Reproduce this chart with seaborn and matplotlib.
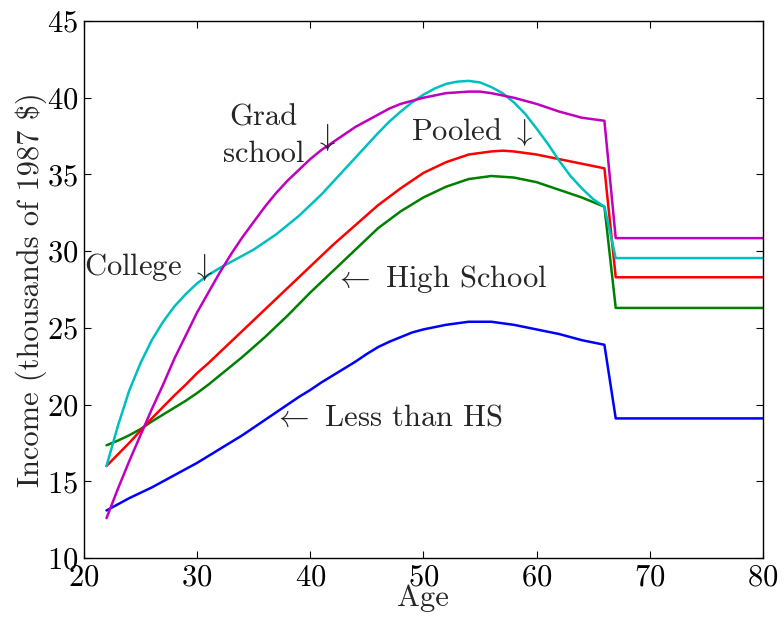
import matplotlib
matplotlib.use("Agg")
import matplotlib.pyplot as plt
import seaborn as sns
import pandas as pd

ages = [22, 23, 24, 25, 26, 27, 28, 29, 30, 31, 32, 33, 34, 35, 36, 37, 38, 39,
        40, 41, 42, 43, 44, 45, 46, 47, 48, 49, 50, 51, 52, 53, 54, 55, 56, 57,
        58, 59, 60, 61, 62, 63, 64, 65, 66, 67, 80]

less_than_hs = [13.1, 13.5, 13.9, 14.25, 14.6, 15.0, 15.4, 15.8, 16.2, 16.65, 17.1, 17.55,
                18.0, 18.5, 19.0, 19.5, 20.0, 20.5, 20.95, 21.45, 21.9, 22.35, 22.8, 23.3,
                23.75, 24.1, 24.4, 24.7, 24.9, 25.05, 25.2, 25.3, 25.4, 25.4, 25.4, 25.3,
                25.2, 25.05, 24.9, 24.75, 24.6, 24.4, 24.2, 24.05, 23.9, 19.1, 19.1]
high_school = [17.35, 17.65, 18.0, 18.4, 18.9, 19.35, 19.8, 20.25, 20.75, 21.3, 21.9, 22.5,
               23.1, 23.75, 24.4, 25.1, 25.8, 26.55, 27.3, 28.0, 28.7, 29.4, 30.1, 30.8,
               31.5, 32.05, 32.6, 33.05, 33.5, 33.85, 34.2, 34.45, 34.7, 34.8, 34.9, 34.85,
               34.8, 34.65, 34.5, 34.25, 34.0, 33.75, 33.5, 33.2, 32.9, 26.3, 26.3]
pooled = [16.0, 16.75, 17.5, 18.3, 19.1, 19.85, 20.6, 21.3, 22.05, 22.7, 23.4, 24.1,
          24.8, 25.5, 26.2, 26.9, 27.6, 28.3, 29.0, 29.7, 30.4, 31.05, 31.7, 32.35,
          33.0, 33.55, 34.1, 34.6, 35.1, 35.45, 35.8, 36.05, 36.3, 36.4, 36.5, 36.55,
          36.5, 36.4, 36.3, 36.15, 36.0, 35.85, 35.7, 35.55, 35.4, 28.3, 28.3]
college = [16.0, 18.6, 20.9, 22.7, 24.2, 25.4, 26.4, 27.2, 27.9, 28.45, 28.9, 29.3,
           29.7, 30.1, 30.6, 31.1, 31.7, 32.3, 33.0, 33.7, 34.5, 35.3, 36.1, 36.9,
           37.7, 38.45, 39.1, 39.7, 40.2, 40.6, 40.9, 41.05, 41.1, 41.0, 40.7, 40.3,
           39.7, 38.95, 38.0, 37.0, 35.9, 34.9, 34.1, 33.4, 32.9, 29.55, 29.55]
grad_school = [12.6, 14.5, 16.3, 18.0, 19.7, 21.3, 23.0, 24.5, 26.0, 27.3, 28.6, 29.8,
               30.9, 31.9, 32.9, 33.8, 34.6, 35.3, 36.0, 36.6, 37.1, 37.6, 38.1, 38.5,
               38.9, 39.3, 39.6, 39.8, 40.0, 40.15, 40.3, 40.35, 40.4, 40.4, 40.3, 40.15,
               40.0, 39.8, 39.6, 39.35, 39.1, 38.9, 38.7, 38.6, 38.5, 30.85, 30.85]

series_names = ["Less than HS", "High School", "Pooled", "College", "Grad school"]
series_colors = ["#0000ff", "#008000", "#ff0000", "#00bfbf", "#bf00bf"]
series_values = [less_than_hs, high_school, pooled, college, grad_school]

rows = []
for name, vals in zip(series_names, series_values):
    for a, v in zip(ages, vals):
        rows.append({"Age": a, "Income": v, "Group": name})
df = pd.DataFrame(rows)

sns.set_style("ticks")
plt.rcParams["font.family"] = ["cmr10"]
plt.rcParams["mathtext.fontset"] = "cm"
plt.rcParams["axes.unicode_minus"] = False
plt.rcParams["axes.formatter.use_mathtext"] = True

fig = plt.figure(figsize=(7.84, 6.19), dpi=100)
ax = fig.add_axes([0.107, 0.0985, 0.866, 0.8675])

sns.lineplot(data=df, x="Age", y="Income", hue="Group", hue_order=series_names,
             palette=dict(zip(series_names, series_colors)), linewidth=1.8,
             legend=False, ax=ax, sort=False, estimator=None)

ax.set_xlim(20, 80)
ax.set_ylim(10, 45)
ax.set_xticks([20, 30, 40, 50, 60, 70, 80])
ax.set_yticks([10, 15, 20, 25, 30, 35, 40, 45])
ax.tick_params(direction="in", top=True, right=True, length=5, width=0.8,
               labelsize=22, pad=4, colors="black")
for s in ax.spines.values():
    s.set_linewidth(1.0)
    s.set_color("black")

ax.set_xlabel("Age", fontsize=22, labelpad=-5)
ax.set_ylabel(r"Income (thousands of 1987 \$)", fontsize=22, labelpad=0)

fs = 22
ax.text(35.9, 37.5, "Grad\nschool", fontsize=fs, ha="center", va="center", linespacing=1.45)
ax.text(41.3, 37.4, r"$\downarrow$", fontsize=fs, ha="center", va="center")
ax.text(48.95, 37.8, r"Pooled $\downarrow$", fontsize=fs, ha="left", va="center")
ax.text(20.05, 29.0, r"College $\downarrow$", fontsize=fs, ha="left", va="center")
ax.text(42.1, 28.2, r"$\leftarrow$ High School", fontsize=fs, ha="left", va="center")
ax.text(36.7, 19.1, r"$\leftarrow$ Less than HS", fontsize=fs, ha="left", va="center")

fig.savefig("out.png", dpi=100)
